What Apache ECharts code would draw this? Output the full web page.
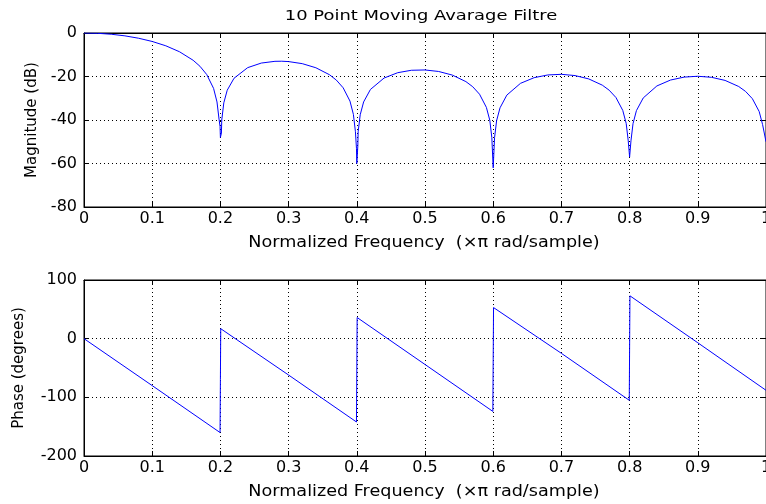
<!DOCTYPE html>
<html><head><meta charset="utf-8">
<script src="https://cdn.jsdelivr.net/npm/echarts@6/dist/echarts.min.js"></script>
<style>html,body{margin:0;padding:0;background:#fff;overflow:hidden}#c{width:766px;height:504px}</style>
</head><body><div id="c"></div>
<script>
// Magnitude response (normalized frequency, dB)
const magFreq = [0,0.02,0.04,0.06,0.08,0.10,0.12,0.14,0.16,0.17,0.18,0.19,0.195,0.198,0.1995,0.2,0.2015,0.202,0.205,0.21,0.22,0.24,0.26,0.28,0.29,0.30,0.32,0.34,0.36,0.37,0.38,0.39,0.395,0.398,0.3995,0.4,0.4015,0.402,0.405,0.41,0.42,0.44,0.46,0.48,0.50,0.52,0.54,0.56,0.57,0.58,0.59,0.595,0.598,0.6,0.602,0.605,0.61,0.62,0.64,0.66,0.68,0.70,0.72,0.74,0.76,0.77,0.78,0.79,0.795,0.798,0.8,0.802,0.805,0.81,0.82,0.84,0.86,0.88,0.90,0.92,0.94,0.96,0.97,0.98,0.99,0.995,1.0];
const magDb = [0,-0.14,-0.57,-1.31,-2.4,-3.89,-5.89,-8.62,-12.53,-15.29,-19.11,-25.48,-31.7,-39.6,-43,-48,-46,-40,-32.1,-26.3,-20.8,-15.93,-13.82,-13.02,-12.98,-13.14,-14.09,-15.98,-19.2,-21.65,-25.2,-31.31,-37.4,-45.4,-53,-60,-52,-45.4,-37.6,-31.7,-25.95,-20.7,-18.25,-17.14,-16.99,-17.69,-19.34,-22.35,-24.71,-28.16,-34.2,-40.1,-48.1,-62,-48.1,-40.3,-34.4,-28.55,-23.15,-20.54,-19.29,-19.0,-19.57,-21.1,-23.98,-26.28,-29.67,-35.6,-41.6,-49.6,-57,-49.6,-41.7,-35.7,-29.85,-24.34,-21.63,-20.28,-19.89,-20.37,-21.8,-24.6,-26.85,-30.2,-36.1,-42.1,-50];
// Phase response (normalized frequency, degrees)
const phaseFreq = [0,0.1,0.1995,0.2,0.2005,0.3,0.3995,0.4,0.4005,0.5,0.5995,0.6,0.6005,0.7,0.7995,0.8,0.8005,0.9,1.0];
const phaseDeg = [0,-80,-160,-70,17,-62,-142,-55,36,-44,-124,-35,53,-25,-105,-17,73,-7,-88];
// Axis ticks
const freqRange = [0, 1, 0.1];
const magRange = [-80, 0, 20];
const phaseRange = [-200, 100, 100];
const titleText = '10 Point Moving Avarage Filtre';
const xName = 'Normalized Frequency  (\u00d7\u03c0 rad/sample)';

const FONT = 'DejaVu Sans';
const txt = {color:'#000', fontFamily:FONT, fontSize:16};
const grid = [
  {left:84, right:0, top:33, height:174, show:true, borderColor:'#000', borderWidth:1, backgroundColor:'#fff', outerBoundsMode:'none', containLabel:false},
  {left:84, right:0, top:280, height:176, show:true, borderColor:'#000', borderWidth:1, backgroundColor:'#fff', outerBoundsMode:'none', containLabel:false}
];
function xa(g, pos, main){
  return {gridIndex:g, type:'value', position:pos, min:freqRange[0], max:freqRange[1], interval:freqRange[2],
    axisLine:{show:true, onZero:false, lineStyle:{color:'#000', width:1}},
    axisTick:{show:true, inside:true, length:5, lineStyle:{color:'#000'}},
    axisLabel:{show:main, margin:4, ...txt},
    splitLine:{show:main, lineStyle:{type:[1,3], color:'#000', width:1}}};
}
function ya(g, pos, main, r, name, gap, fs){
  return {gridIndex:g, type:'value', position:pos, min:r[0], max:r[1], interval:r[2],
    axisLine:{show:true, onZero:false, lineStyle:{color:'#000', width:1}},
    axisTick:{show:true, inside:true, length:5, lineStyle:{color:'#000'}},
    axisLabel:{show:main, margin:7, ...txt},
    splitLine:{show:main, lineStyle:{type:[1,3], color:'#000', width:1}},
    name: main ? name : '', nameLocation:'middle', nameGap:gap,
    nameTextStyle:{color:'#000', fontFamily:FONT, fontSize:fs}};
}
function label(text, x, y, size, sx){
  return {type:'text', x:x, y:y, scaleX:sx, scaleY:1, z:10,
    style:{text:text, fill:'#000', font:size+'px "'+FONT+'"', align:'center', verticalAlign:'middle'}};
}
const option = {
  animation:false,
  backgroundColor:'#fff',
  grid: grid,
  graphic:[
    label(titleText, 421, 16, 14, 1.28),
    label(xName, 424, 243, 16, 1.1),
    label(xName, 424, 492, 16, 1.1)
  ],
  xAxis:[xa(0,'bottom',true), xa(0,'top',false), xa(1,'bottom',true), xa(1,'top',false)],
  yAxis:[ya(0,'left',true,magRange,'Magnitude (dB)',44,15), ya(0,'right',false,magRange,'',0,15),
         ya(1,'left',true,phaseRange,'Phase (degrees)',57,15), ya(1,'right',false,phaseRange,'',0,15)],
  series:[
    {type:'line', xAxisIndex:0, yAxisIndex:0, data:magFreq.map((f,i)=>[f,magDb[i]]),
     showSymbol:false, lineStyle:{color:'#0000ff', width:1}, itemStyle:{color:'#0000ff'}, z:3},
    {type:'line', xAxisIndex:2, yAxisIndex:2, data:phaseFreq.map((f,i)=>[f,phaseDeg[i]]),
     showSymbol:false, lineStyle:{color:'#0000ff', width:1}, itemStyle:{color:'#0000ff'}, z:3}
  ]
};
const chart = echarts.init(document.getElementById('c'), null, {renderer:'canvas'});
chart.setOption(option);
</script></body></html>
